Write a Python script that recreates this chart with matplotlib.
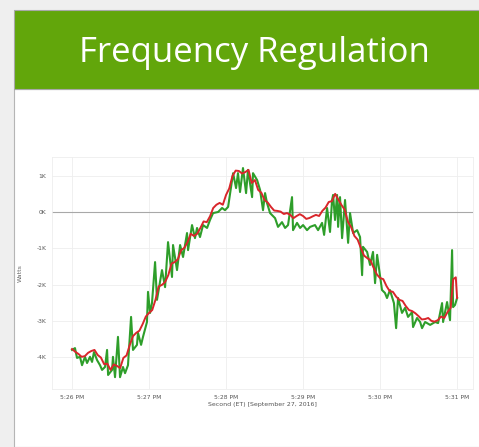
import matplotlib.pyplot as plt
from matplotlib.patches import Rectangle

# smoothed signal (red), seconds after 5:26 PM / watts
red_t = [0, 2.5, 5, 7.5, 10, 12.5, 15, 17.5, 20, 22.5, 25, 27.5, 30, 32.5, 35, 37.5, 40, 42.5,
         45, 47.5, 50, 52.5, 55, 57.5, 60, 62.5, 65, 67.5, 70, 72.5, 75, 77.5, 80, 82.5, 85,
         87.5, 90, 92.5, 95, 97.5, 100, 102.5, 105, 107.5, 110, 112.5, 115, 117.5, 120, 122.5,
         125, 127.5, 130, 132.5, 135, 137.5, 140, 142.5, 145, 147.5, 150, 152.5, 155, 157.5,
         160, 162.5, 165, 167.5, 170, 172.5, 175, 177.5, 180, 182.5, 185, 187.5, 190, 192.5,
         195, 197.5, 200, 202.5, 205, 207.5, 210, 212.5, 215, 217.5, 220, 222.5, 225, 227.5,
         230, 232.5, 235, 237.5, 240, 242.5, 245, 247.5, 250, 252.5, 255, 257.5, 260, 262.5,
         265, 267.5, 270, 272.5, 275, 277.5, 280, 282.5, 285, 287.5, 290, 292.5, 295, 297,
         299, 300]
red_w = [-3775, -3850, -3910, -3990, -3970, -3880, -3830, -3800, -3940, -4010, -4190, -4180,
         -4350, -4200, -4240, -4300, -4020, -3950, -3660, -3420, -3330, -3270, -3090, -2880,
         -2780, -2700, -2420, -2050, -2010, -1930, -1740, -1420, -1380, -1300, -1050, -990,
         -830, -600, -660, -600, -440, -260, -280, -120, 110, 200, 250, 200, 470, 650, 990,
         1140, 1130, 1060, 1100, 1160, 800, 880, 610, 530, 330, 260, 140, 40, 30, 10, -55, -30,
         -80, -170, -110, -60, -110, -190, -165, -120, -80, -110, 30, 120, 275, 300, 500, 340,
         190, 60, -275, -420, -660, -760, -990, -1200, -1270, -1330, -1540, -1720, -1820,
         -1850, -2040, -2180, -2200, -2330, -2420, -2450, -2590, -2700, -2730, -2790, -2870,
         -2960, -2950, -2920, -3000, -3020, -2980, -2880, -2920, -2760, -2640, -1850, -1800,
         -2370]

# raw signal (green)
green_t = [0, 2.3, 3.9, 6.2, 7.8, 10.1, 11.7, 14.0, 15.6, 17.1, 19.5, 21.8, 23.4, 25.7, 27.3,
           28.1, 31.2, 31.9, 33.5, 35.8, 37.4, 39.7, 41.3, 43.6, 46.0, 47.5, 50.6, 51.4, 53.8,
           55.3, 58.4, 59.2, 60.8, 62.3, 64.7, 66.2, 70.1, 72.5, 74.8, 77.9, 78.7, 81.8, 84.2,
           86.5, 89.6, 90.4, 93.5, 95.8, 97.4, 99.7, 102.1, 105.2, 107.5, 109.9, 113.8, 116.9,
           119.2, 121.6, 125.5, 127.8, 129.3, 130.9, 133.2, 135.6, 137.1, 140.3, 141.0, 144.2,
           146.5, 148.8, 150.4, 151.9, 154.3, 158.2, 160.5, 163.6, 166.0, 168.3, 171.4, 172.2,
           175.3, 177.7, 180.0, 183.1, 185.5, 189.3, 191.7, 194.8, 196.4, 198.7, 201.0, 202.6,
           203.4, 204.9, 206.5, 207.3, 208.8, 210.4, 212.7, 215.1, 216.6, 219.0, 222.1, 224.4,
           226.0, 226.7, 229.9, 232.2, 234.5, 236.1, 237.7, 241.5, 243.8, 245.4, 247.7, 250.8,
           252.5, 254.0, 257.1, 259.5, 261.8, 264.9, 265.7, 268.8, 271.2, 272.7, 275.1, 279.0,
           282.9, 285.2, 288.3, 289.1, 292.2, 294.5, 296.1, 296.9, 298.4, 300]
green_w = [-3800, -3750, -4020, -3990, -4220, -3990, -4160, -3990, -4130, -3860, -4080, -4220,
           -4350, -4270, -3800, -4490, -4350, -3990, -4550, -3440, -4550, -4270, -4440, -4220,
           -2890, -3800, -3660, -3330, -3660, -3440, -3030, -2200, -2780, -2510, -1380, -2420,
           -1600, -2070, -830, -1790, -910, -1600, -910, -1240, -580, -1050, -360, -720, -440,
           -690, -360, -440, -220, -30, 0, 110, 50, 140, 1070, 660, 1070, 550, 1210, 520, 1160,
           410, 1070, 880, 610, 50, 520, 250, -30, -170, -410, -280, -440, -360, 410, -500,
           -300, -440, -360, -500, -410, -360, -500, -300, -630, 110, -550, 330, 470, -220, 470,
           -410, 410, -720, 330, -850, -30, -580, -500, -690, -1740, -960, -1100, -1460, -1100,
           -1960, -1180, -2150, -2230, -2370, -2150, -2510, -3200, -2370, -2780, -2640, -2890,
           -2760, -3170, -2920, -3030, -3200, -3030, -3110, -3030, -3060, -2510, -3030, -2480,
           -2980, -1050, -2620, -2560, -2370]

y_ticks = [-4000, -3000, -2000, -1000, 0, 1000]
y_labels = ["-4K", "-3K", "-2K", "-1K", "0K", "1K"]
x_ticks = [0, 60, 120, 180, 240, 300]
x_labels = ["5:26 PM", "5:27 PM", "5:28 PM", "5:29 PM", "5:30 PM", "5:31 PM"]

W, H = 479, 447
fig = plt.figure(figsize=(W / 100, H / 100), dpi=100)
fig.patch.set_facecolor("#efefef")

# slide panel + green banner
fig.patches.append(Rectangle((14 / W, 0), 1, 1 - 89 / H, transform=fig.transFigure,
                             facecolor="white", edgecolor="#b5b5b5", lw=0.8, zorder=-5))
fig.patches.append(Rectangle((14 / W, 1 - 89 / H), 1, 79 / H, transform=fig.transFigure,
                             facecolor="#62a60b", edgecolor="#a8a8a8", lw=0.8, zorder=-5))
fig.text(254 / W, 1 - 53 / H, "Frequency Regulation", color="white", fontsize=25,
         family="Open Sans", ha="center", va="center")

ax = fig.add_axes([52 / W, 1 - 389 / H, 421 / W, 232 / H])
ax.set_zorder(2)
ax.plot(green_t, green_w, color="#2e9e2a", lw=1.5, zorder=3)
ax.plot(red_t, red_w, color="#d9262b", lw=1.4, zorder=4)
ax.axhline(0, color="#a8a8a8", lw=0.8, zorder=2)

ax.set_xlim(-15.6, 312.4)
ax.set_ylim(-4876, 1515)
ax.set_yticks(y_ticks)
ax.set_yticklabels(y_labels)
ax.set_xticks(x_ticks)
ax.set_xticklabels(x_labels)
ax.tick_params(length=0, labelsize=4.3, labelcolor="#555555", pad=4)
ax.grid(color="#eeeeee", lw=0.6)
for s in ax.spines.values():
    s.set_color("#eeeeee")
    s.set_linewidth(0.6)
ax.set_ylabel("Watts", fontsize=4.5, color="#666666", labelpad=10)
ax.set_xlabel("Second (ET) [September 27, 2016]", fontsize=4.5, color="#555555", labelpad=2)

plt.savefig("out.png", dpi=100)
